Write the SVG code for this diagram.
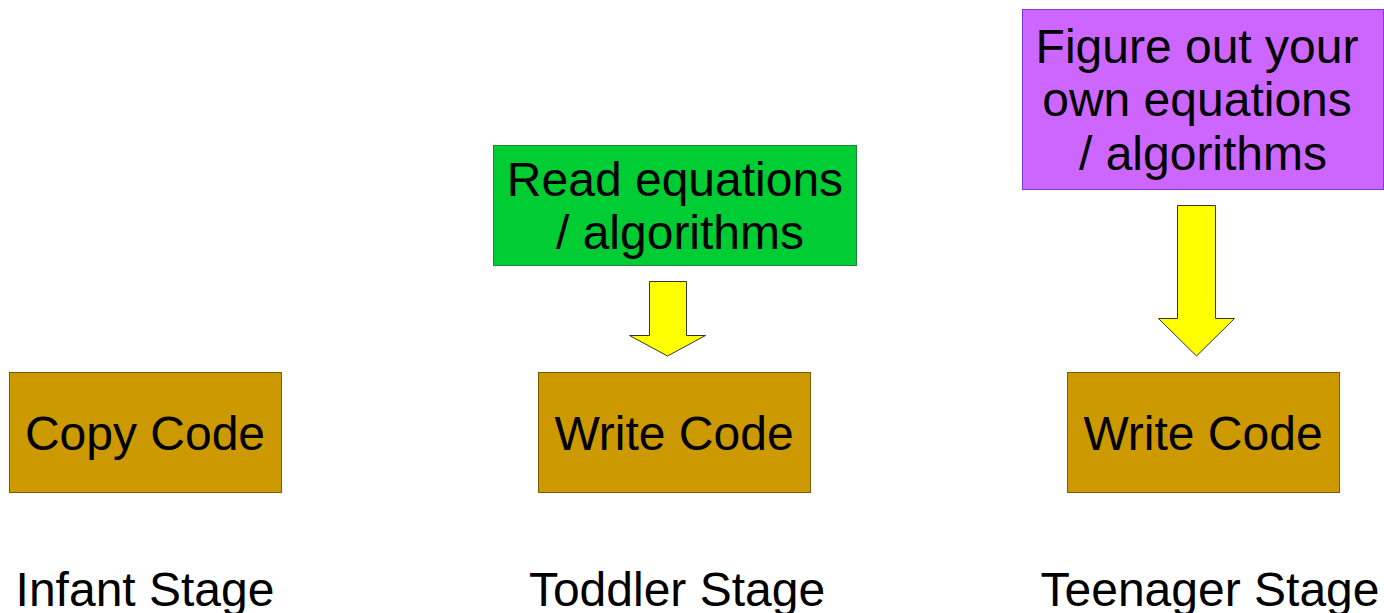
<svg xmlns="http://www.w3.org/2000/svg" width="1384" height="613" viewBox="0 0 1384 613">
<style>
text{font-family:"Liberation Sans",Arial,sans-serif;font-size:48px;fill:#000;text-anchor:middle}
.code{fill:#cc9900;stroke:#7f5a00;stroke-width:1}
.arrow{fill:#ffff00;stroke:#333;stroke-width:1}
</style>
<rect width="1384" height="613" fill="#fff"/>
<g id="copy-code"><rect class="code" x="9.5" y="372.5" width="272" height="120"/><text x="145" y="450">Copy Code</text></g>
<g id="write-code-1"><rect class="code" x="538.5" y="372.5" width="272" height="120"/><text x="674" y="450">Write Code</text></g>
<g id="write-code-2"><rect class="code" x="1067.5" y="372.5" width="272" height="120"/><text x="1203" y="450">Write Code</text></g>
<g id="read-equations"><rect x="493.5" y="145.5" width="363" height="120" fill="#00cc33" stroke="#1a8a3a"/><text x="675" y="196">Read equations</text><text x="680" y="249">/ algorithms</text></g>
<g id="figure-out"><rect x="1022.5" y="9.5" width="361" height="180" fill="#cc66ff" stroke="#7a3ae6"/><text x="1197" y="63">Figure out your</text><text x="1197" y="116">own equations</text><text x="1203" y="170">/ algorithms</text></g>
<g id="connectors">
<polygon class="arrow" points="649.5,281.5 686.5,281.5 686.5,335.5 705.5,335.5 667.5,356 629.5,335.5 649.5,335.5"/>
<polygon class="arrow" points="1177.5,205.5 1215.5,205.5 1215.5,318.5 1234.5,318.5 1196.5,356 1158.5,318.5 1177.5,318.5"/>
</g>
<g id="infant-stage"><text x="145" y="606">Infant Stage</text></g>
<g id="toddler-stage"><text x="677" y="606">Toddler Stage</text></g>
<g id="teenager-stage"><text x="1210" y="606">Teenager Stage</text></g>
</svg>
